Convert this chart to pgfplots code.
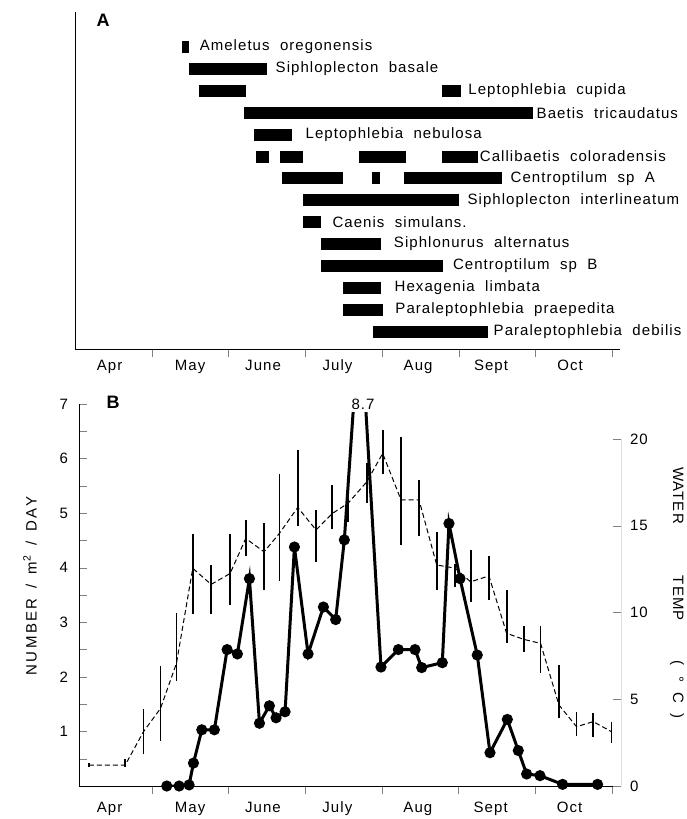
\documentclass[border=0pt]{standalone}
\usepackage{pgfplots}
\pgfplotsset{compat=1.18}
\usepackage{pgfplotstable}
\usepackage{fontspec}
\setmainfont{Liberation Sans}[LetterSpace=7,WordSpace=2]
\newfontfamily\spaced{Liberation Sans}[LetterSpace=16,WordSpace=1.5]

% A: flight periods (months after 1 Apr), row counted from the top
\pgfplotstableread{
start end row
1.395 1.486 1
1.486 2.503 2
1.617 2.230 3
4.785 5.033 3
2.203 5.971 4
2.334 2.829 5
2.360 2.530 6
2.673 2.973 6
3.703 4.315 6
4.785 5.254 6
2.699 3.494 7
3.872 3.977 7
4.289 5.567 7
2.973 5.007 8
2.973 3.207 9
3.207 3.990 10
3.207 4.798 11
3.494 3.990 12
3.494 4.016 13
3.885 5.385 14
}\flights

% B: emergence, number/m2/day
\pgfplotstableread{
m n
1.195 0
1.356 0
1.486 0.02
1.543 0.42
1.652 1.03
1.816 1.03
1.982 2.50
2.116 2.42
2.273 3.80
2.404 1.15
2.533 1.47
2.621 1.25
2.738 1.36
2.860 4.38
3.038 2.42
3.238 3.28
3.398 3.05
3.511 4.51
3.716 8.7
3.989 2.18
4.216 2.50
4.433 2.50
4.520 2.17
4.789 2.26
4.876 4.81
5.020 3.80
5.245 2.40
5.411 0.61
5.637 1.22
5.780 0.65
5.889 0.22
6.063 0.19
6.358 0.03
6.814 0.03
}\emerg

% B: water temperature, mean with range
\pgfplotstableread{
m T hi lo
0.180 1.20 1.35 1.10
0.652 1.20 1.55 1.10
0.891 3.13 4.42 1.82
1.113 4.47 6.92 2.59
1.321 7.07 9.95 6.05
1.534 12.55 14.55 9.91
1.773 11.62 12.74 9.91
2.021 12.25 14.55 10.43
2.225 14.27 15.33 13.26
2.464 13.50 15.14 11.30
2.664 14.56 17.96 11.83
2.903 16.06 19.37 14.96
3.142 14.76 15.91 12.89
3.355 15.71 17.35 14.79
3.560 16.30 16.60 15.20
3.803 17.53 18.60 16.29
4.011 19.17 20.55 17.98
4.250 16.50 20.13 13.89
4.485 16.50 17.64 14.41
4.716 12.74 14.62 11.30
4.954 12.56 12.80 11.50
5.158 11.77 13.60 10.60
5.397 12.11 13.26 10.72
5.628 8.80 11.30 8.23
5.854 8.45 9.22 7.73
6.071 8.22 9.22 6.52
6.310 4.67 6.97 3.90
6.540 3.42 4.28 2.88
6.757 3.71 4.19 2.84
6.997 3.13 3.71 2.50
}\temp

\pgfplotsset{
  every axis/.append style={font=\fontsize{7.5}{9}\selectfont},
  tick label style={font=\fontsize{7.5}{9}\selectfont},
  /pgf/number format/assume math mode=true,
  monthaxis/.style={
    scale only axis,
    xtick={0.45,1.5,2.45,3.42,4.47,5.42,6.45},
    xticklabels={Apr,May,June,July,Aug,Sept,Oct},
    major x tick style={draw=none},
    minor xtick={1,2,3,4,5,6,7},
    xtick align=outside,
    minor tick length=4pt,
    major tick length=4pt,
  },
}

\begin{document}
\begin{tikzpicture}
\path[use as bounding box] (0,0) rectangle (343pt,-409.5pt);

% ---------------- A ----------------
\begin{axis}[monthaxis,
  at={(37.5pt,-174.5pt)}, anchor=south west,
  width=272.5pt, height=168.5pt,
  xmin=0, xmax=7.1,
  y dir=reverse, ymin=-0.6, ymax=14.79,
  ytick=\empty,
  axis lines*=left,
  xticklabel style={yshift=2pt},
  clip=false,
]
\addplot[draw=none, mark=none,
  error bars/.cd, x dir=both, x explicit, error mark=none,
  error bar style={draw=black, line width=6pt}]
  table[x expr={(\thisrow{start}+\thisrow{end})/2}, y=row,
        x error expr={(\thisrow{end}-\thisrow{start})/2}] {\flights};
\begin{scope}[every node/.style={anchor=west, inner sep=0pt}]
\node at (axis cs:1.62,1) {Ameletus oregonensis};
\node at (axis cs:2.61,2) {Siphloplecton basale};
\node at (axis cs:5.12,3) {Leptophlebia cupida};
\node at (axis cs:6.01,4) {Baetis tricaudatus};
\node at (axis cs:3.00,5) {Leptophlebia nebulosa};
\node at (axis cs:5.27,6) {Callibaetis coloradensis};
\node at (axis cs:5.67,7) {Centroptilum sp A};
\node at (axis cs:5.11,8) {Siphloplecton interlineatum};
\node at (axis cs:3.35,9) {Caenis simulans.};
\node at (axis cs:4.15,10) {Siphlonurus alternatus};
\node at (axis cs:4.92,11) {Centroptilum sp B};
\node at (axis cs:4.16,12) {Hexagenia limbata};
\node at (axis cs:4.17,13) {Paraleptophlebia praepedita};
\node at (axis cs:5.45,14) {Paraleptophlebia debilis};
\end{scope}
\end{axis}

% ---------------- B ----------------
\begin{axis}[monthaxis,
  at={(39.5pt,-393pt)}, anchor=south west,
  width=271pt, height=191pt,
  xmin=0.05, xmax=7.12,
  ymin=0, ymax=7,
  axis lines*=left,
  ytick={1,2,3,4,5,6,7},
  minor ytick={0.5,1.5,2.5,3.5,4.5,5.5,6.5},
  ytick align=inside,
  yticklabel style={xshift=-2pt},
  xticklabel style={yshift=-0.5pt},
  clip mode=individual,
]
\addplot[black, line width=1.5pt, mark=*, mark size=2pt] table[x=m, y=n] {\emerg};
\node[fill=white, inner sep=1.5pt] at (axis cs:3.755,7) {8.7};
\end{axis}

\begin{axis}[
  scale only axis,
  at={(39.5pt,-393pt)}, anchor=south west,
  width=271pt, height=191pt,
  xmin=0.05, xmax=7.12,
  ymin=0, ymax=22.02,
  axis x line=none,
  axis y line*=right,
  y axis line style={draw=none},
  ytick={0,5,10,15,20},
  ytick align=inside,
  major tick length=4pt,
  yticklabel style={xshift=1pt},
]
\addplot[black, line width=0.5pt, dash pattern=on 2.5pt off 1.5pt, mark=none,
  error bars/.cd, y dir=both, y explicit, error mark=none,
  error bar style={solid, line width=0.9pt}]
  table[x=m, y=T,
        y error plus expr={\thisrow{hi}-\thisrow{T}},
        y error minus expr={\thisrow{T}-\thisrow{lo}}] {\temp};
\draw[black] (rel axis cs:1,0) -- (axis cs:7.12,20);
\end{axis}

% panel letters and axis titles
\node[font=\bfseries\fontsize{9}{10}\selectfont] at (51.5pt,-10pt) {A};
\node[font=\bfseries\fontsize{9}{10}\selectfont] at (56.5pt,-201pt) {B};
\node[rotate=90, font=\spaced\fontsize{7.5}{9}\selectfont] at (15pt,-293pt)
  {NUMBER / m\textsuperscript{2} / DAY};
\node[rotate=-90, font=\fontsize{7.5}{9}\selectfont] at (338.5pt,-296.5pt)
  {WATER\hspace{26pt}TEMP\hspace{20pt}( ° C )};
\end{tikzpicture}
\end{document}
